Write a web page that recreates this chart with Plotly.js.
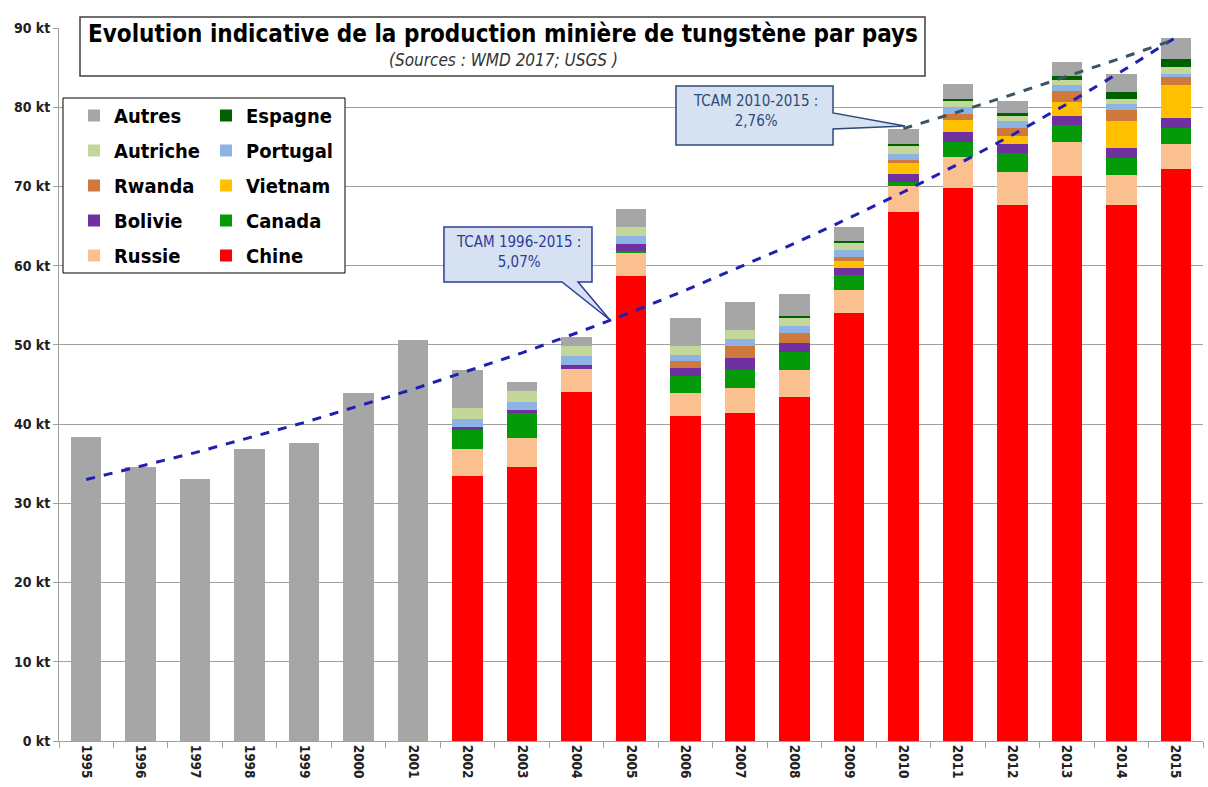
<!DOCTYPE html>
<html><head><meta charset="utf-8">
<script src="https://cdn.plot.ly/plotly-3.0.1.min.js"></script>
<style>html,body{margin:0;padding:0;background:#fff}#chart{width:1208px;height:787px}</style>
</head><body><div id="chart"></div><script>
// ---- data (kt) ----
const years = ['1995','1996','1997','1998','1999','2000','2001','2002','2003','2004','2005','2006','2007','2008','2009','2010','2011','2012','2013','2014','2015'];
const chine    = [0,0,0,0,0,0,0, 33.4,34.6,44.0,58.7,41.05,41.35,43.45,54.0,66.75,69.85,67.6,71.3,67.7,72.2];
const russie   = [0,0,0,0,0,0,0, 3.5,3.7,2.95,2.85,2.9,3.25,3.35,2.9,3.25,3.85,4.2,4.3,3.75,3.2];
const canada   = [0,0,0,0,0,0,0, 2.3,3.05,0,0.3,2.1,2.2,2.3,1.9,0.6,1.9,2.4,2.1,2.1,1.95];
const bolivie  = [0,0,0,0,0,0,0, 0.4,0.45,0.55,0.85,1.05,1.55,1.2,0.95,1.0,1.3,1.1,1.25,1.25,1.35];
const vietnam  = [0,0,0,0,0,0,0, 0,0,0,0,0,0,0,0.85,1.3,1.55,1.1,1.65,3.5,4.1];
const rwanda   = [0,0,0,0,0,0,0, 0,0,0,0,0.85,1.5,1.15,0.5,0.5,0.75,1.0,1.4,1.35,1.05];
const portugal = [0,0,0,0,0,0,0, 1.05,1.05,1.05,1.0,0.75,0.85,0.95,0.85,0.75,0.85,0.8,0.75,0.75,0.35];
const autriche = [0,0,0,0,0,0,0, 1.4,1.35,1.25,1.2,1.15,1.15,1.05,0.9,0.95,0.7,0.7,0.7,0.7,0.9];
const espagne  = [0,0,0,0,0,0,0, 0,0,0,0,0,0,0.2,0.25,0.3,0.25,0.35,0.5,0.85,0.95];
const autres   = [38.4,34.6,33.1,36.8,37.6,43.9,50.6, 4.8,1.1,1.25,2.3,3.6,3.55,2.8,1.8,1.9,1.9,1.55,1.8,2.2,2.75];
// trend curves
const trend1996 = [33.0,34.7,36.4,38.3,40.2,42.3,44.4,46.7,49.0,51.5,54.1,56.9,59.8,62.8,66.0,69.3,72.8,76.5,80.4,84.5,88.8];
const trendYears2 = ['2010','2011','2012','2013','2014','2015'];
const trend2010 = [77.3,79.4,81.6,83.9,86.2,88.6];

// name, values, colour, legend column, rank in column
const series = [
  ['Chine', chine, '#FF0000', 'legend2', 5],
  ['Russie', russie, '#FAC090', 'legend', 5],
  ['Canada', canada, '#059A0A', 'legend2', 4],
  ['Bolivie', bolivie, '#7030A0', 'legend', 4],
  ['Vietnam', vietnam, '#FFC000', 'legend2', 3],
  ['Rwanda', rwanda, '#CF7A3C', 'legend', 3],
  ['Portugal', portugal, '#8DB4E2', 'legend2', 2],
  ['Autriche', autriche, '#C4D79B', 'legend', 2],
  ['Espagne', espagne, '#006100', 'legend2', 1],
  ['Autres', autres, '#A6A6A6', 'legend', 1]
];

const FONT = 'Liberation Sans Narrow, DejaVu Sans Condensed, Lato, sans-serif';

const traces = series.map(s => ({
  type: 'bar', name: s[0], x: years, y: s[1],
  marker: {color: s[2], line: {width: 0}},
  legend: s[3], legendgroup: s[0], legendrank: s[4], hoverinfo: 'x+y+name'
}));
traces.push({type:'scatter', mode:'lines', x: years, y: trend1996, showlegend:false,
  line:{color:'#1F1FB0', width:3, dash:'dash'}, hoverinfo:'skip'});
traces.push({type:'scatter', mode:'lines', x: trendYears2, y: trend2010, showlegend:false,
  line:{color:'#3A5566', width:3, dash:'dash'}, hoverinfo:'skip'});

// pixel -> paper helpers for decorations
const L=59, T=28, PW=1144, PH=713;
const fx = x => (x-L)/PW, fy = y => (T+PH-y)/PH;
const path = pts => 'M' + pts.map(p => fx(p[0]).toFixed(4)+','+fy(p[1]).toFixed(4)).join(' L') + ' Z';

const shapes = [
  // title box
  {type:'rect', xref:'paper', yref:'paper', x0:fx(80), x1:fx(925), y0:fy(76), y1:fy(17),
   fillcolor:'#FFFFFF', line:{color:'#404040', width:1.5}, layer:'above'},
  // legend box
  {type:'rect', xref:'paper', yref:'paper', x0:fx(63), x1:fx(345), y0:fy(273), y1:fy(98),
   fillcolor:'#FFFFFF', line:{color:'#000000', width:1}, layer:'above'},
  // callout 1
  {type:'path', xref:'paper', yref:'paper',
   path: path([[444,227],[592,227],[592,282],[578,282],[610,320],[562,282],[444,282]]),
   fillcolor:'#D6E2F1', line:{color:'#2E3A9A', width:1.5}, layer:'above'},
  // callout 2
  {type:'path', xref:'paper', yref:'paper',
   path: path([[676,86],[833,86],[833,113],[905,126],[833,129],[833,145],[676,145]]),
   fillcolor:'#D6E2F1', line:{color:'#2E4A7A', width:1.5}, layer:'above'}
];

const annotations = [
  {xref:'paper', yref:'paper', x:fx(503), y:fy(60), text:'<i>(Sources : WMD 2017; USGS )</i>',
   showarrow:false, font:{family:FONT, size:17, color:'#333333'}, xanchor:'center', yanchor:'middle'},
  {xref:'paper', yref:'paper', x:fx(518), y:fy(252), text:'TCAM 1996-2015 :<br>5,07%',
   showarrow:false, font:{family:FONT, size:15, color:'#2E3A9A'}, xanchor:'center', yanchor:'middle'},
  {xref:'paper', yref:'paper', x:fx(755), y:fy(111), text:'TCAM 2010-2015 :<br>2,76%',
   showarrow:false, font:{family:FONT, size:15, color:'#2E4A7A'}, xanchor:'center', yanchor:'middle'}
];

const legFont = {family:FONT, size:20, color:'#000', weight:'bold'};
const layout = {
  width:1208, height:787,
  margin:{l:L, r:1208-L-PW, t:T, b:787-T-PH, pad:0},
  paper_bgcolor:'#FFFFFF', plot_bgcolor:'#FFFFFF',
  barmode:'stack', bargap:0.44,
  title:{text:'<b>Evolution indicative de la production minière de tungstène par pays</b>',
    xref:'paper', x:fx(503), xanchor:'center', yref:'container', y:1-34/787, yanchor:'middle',
    font:{family:FONT, size:24, color:'#000'}},
  xaxis:{type:'category', tickangle:90, showline:true, linecolor:'#A0A0A0', linewidth:1,
    ticks:'outside', tickson:'boundaries', ticklen:6, tickcolor:'#A0A0A0',
    tickfont:{family:FONT, size:13.5, color:'#222', weight:'bold'}, showgrid:false, fixedrange:true},
  yaxis:{range:[0,90], dtick:10, ticksuffix:' kt', showgrid:true, gridcolor:'#A0A0A0', gridwidth:1,
    showline:true, linecolor:'#A0A0A0', ticks:'outside', ticklen:5, tickcolor:'#A0A0A0', zeroline:false,
    tickfont:{family:FONT, size:14, color:'#222', weight:'bold'}, fixedrange:true},
  legend:{x:fx(74), xanchor:'left', y:fy(96), yanchor:'top', traceorder:'grouped',
    tracegroupgap:6, bgcolor:'rgba(0,0,0,0)', borderwidth:0, font:legFont},
  legend2:{x:fx(206), xanchor:'left', y:fy(96), yanchor:'top', traceorder:'grouped',
    tracegroupgap:6, bgcolor:'rgba(0,0,0,0)', borderwidth:0, font:legFont},
  shapes:shapes, annotations:annotations, showlegend:true
};

Plotly.newPlot('chart', traces, layout, {displayModeBar:false, staticPlot:true});
</script></body></html>
